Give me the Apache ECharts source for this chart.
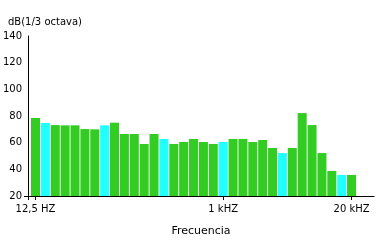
<!DOCTYPE html>
<html>
<head>
<meta charset="utf-8">
<script src="https://cdn.jsdelivr.net/npm/echarts@6/dist/echarts.min.js"></script>
<style>
html,body{margin:0;padding:0;background:#fff;}
#c{width:383px;height:240px;}
</style>
</head>
<body>
<div id="c"></div>
<script>
// 1/3-octave bands, 12.5 Hz .. 20 kHz
const bands = ['12,5','16','20','25','31,5','40','50','63','80','100','125','160','200','250','315','400','500','630','800','1k','1,25k','1,6k','2k','2,5k','3,15k','4k','5k','6,3k','8k','10k','12,5k','16k','20k'];
const levels = [78.5,74.8,73.2,73,73,70.2,70,73,75,66.5,66.5,59,66.5,62.8,59,60.5,62.8,60.5,59,60.5,62.8,62.8,60.5,62,56,52.2,56,82.2,73.2,52.2,38.8,35.8,35.8];
const highlightBands = ['16','63','250','1k','4k','16k'];
const tickBands = ['12,5','1k','20k'];
const tickLabels = ['12,5 HZ','1 kHZ','20 kHZ'];
const yTicks = [20,40,60,80,100,120,140];

const FONT = 'DejaVu Sans';
const tickIdx = tickBands.map(b => bands.indexOf(b));
const labelMap = {};
tickIdx.forEach((i, k) => labelMap[i] = tickLabels[k]);

const chart = echarts.init(document.getElementById('c'), null, {renderer: 'canvas'});
chart.setOption({
  animation: false,
  backgroundColor: '#fff',
  title: {
    text: 'dB(1/3 octava)', left: 3, top: 12,
    textStyle: {fontFamily: FONT, fontSize: 10, fontWeight: 'normal', color: '#000'}
  },
  grid: {left: 28, right: 9, top: 36, bottom: 44, containLabel: false, outerBoundsMode: 'none'},
  xAxis: {
    type: 'value', min: -0.76, max: 34.27,
    name: 'Frecuencia', nameLocation: 'middle', nameGap: 30,
    nameTextStyle: {fontFamily: FONT, fontSize: 11, color: '#000'},
    axisLine: {show: true, onZero: false, lineStyle: {color: '#000', width: 1}},
    axisTick: {show: true, customValues: [-0.76].concat(tickIdx), length: 4, lineStyle: {color: '#000'}},
    axisLabel: {
      customValues: tickIdx, margin: 8,
      fontFamily: FONT, fontSize: 10, color: '#000',
      formatter: v => labelMap[Math.round(v)] || ''
    },
    splitLine: {show: false}
  },
  yAxis: {
    type: 'value', min: 20, max: 140, interval: 20,
    axisLine: {show: true, onZero: false, lineStyle: {color: '#000', width: 1}},
    axisTick: {show: true, customValues: [20], length: 4, lineStyle: {color: '#000'}},
    axisLabel: {fontFamily: FONT, fontSize: 10, color: '#000', margin: 6, customValues: yTicks},
    splitLine: {show: false}
  },
  series: [{
    type: 'bar', barWidth: 9,
    data: levels.map((v, i) => ({
      value: [i, v],
      itemStyle: {color: highlightBands.includes(bands[i]) ? '#22ffff' : '#33cc22'}
    }))
  }]
});
</script>
</body>
</html>
